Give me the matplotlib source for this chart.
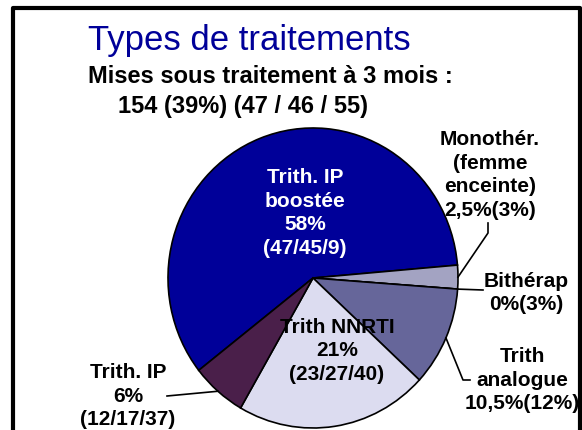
import numpy as np
import matplotlib
matplotlib.use("Agg")
import matplotlib.pyplot as plt
from matplotlib.lines import Line2D

plt.rcParams['font.family'] = ['Liberation Sans', 'DejaVu Sans']

# data
labels = ["Trith. IP\nboostée\n58%\n(47/45/9)",
          "Monothér.\n(femme\nenceinte)\n2,5%(3%)",
          "Bithérap\n0%(3%)",
          "Trith\nanalogue\n10,5%(12%)",
          "Trith NNRTI\n21%\n(23/27/40)",
          "Trith. IP\n6%\n(12/17/37)"]
values = [58, 2.5, 0, 10.5, 21, 6]
colors = ["#000099", "#A3A3C2", "#8080A8", "#66669A", "#DCDCF0", "#4A1F4A"]
text_colors = ["white", "black", "black", "black", "black", "black"]

W, H = 582, 430
fig = plt.figure(figsize=(W / 100, H / 100), dpi=100)

def fp(x, y):
    return (x / W, 1 - y / H)

ax = fig.add_axes([168 / W, 2 / H, 290 / W, 300 / H])
wedges, _ = ax.pie(values, colors=colors, startangle=218, counterclock=False,
                   wedgeprops=dict(edgecolor="black", linewidth=1.2))
ax.set_aspect("auto")
ax.set_xlim(-1, 1)
ax.set_ylim(-1, 1)
for w in wedges:
    w.set_clip_on(False)

# label positions (pixels, centre of text block)
pos = [(305, 213), (490, 175), (526, 293), (522, 380), (337, 351), (128, 396)]
for lab, (x, y), c in zip(labels, pos, text_colors):
    fig.text(*fp(x, y), lab, ha="center", va="center", fontsize=15,
             fontweight="bold", color=c, linespacing=1.33)

# leader lines: from label side to wedge edge at mid angle
def edge_px(w, frac=1.0):
    a = np.deg2rad((w.theta1 + w.theta2) / 2)
    p = ax.transData.transform((frac * np.cos(a), frac * np.sin(a)))
    return p[0], H - p[1]

leaders = {1: [(488, 223), (488, 233)], 2: [(483, 290)],
           3: [(470, 380), (463, 380)], 5: [(167, 396)]}
for i, pts in leaders.items():
    pts = pts + [edge_px(wedges[i], 1.0)]
    xs = [p[0] / W for p in pts]
    ys = [1 - p[1] / H for p in pts]
    fig.add_artist(Line2D(xs, ys, color="black", lw=1.2, transform=fig.transFigure))

# titles
fig.text(*fp(88, 50), "Types de traitements", fontsize=25, color="#000099",
         ha="left", va="baseline")
fig.text(*fp(88, 83), "Mises sous traitement à 3 mois :", fontsize=17,
         fontweight="bold", ha="left", va="baseline")
fig.text(*fp(118, 113), "154 (39%) (47 / 46 / 55)", fontsize=17,
         fontweight="bold", ha="left", va="baseline")

# slide frame
fx = [13 / W, 13 / W, 580 / W, 580 / W]
fy = [-0.05, 1 - 8 / H, 1 - 8 / H, -0.05]
fig.add_artist(Line2D(fx, fy, color="black", lw=3, transform=fig.transFigure))

fig.savefig("out.png", dpi=100)
